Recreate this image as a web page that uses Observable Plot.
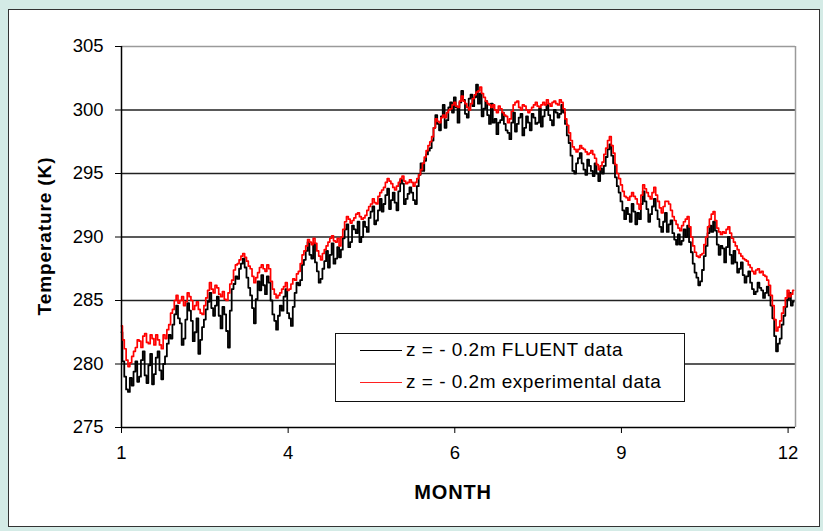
<!DOCTYPE html>
<html><head><meta charset="utf-8">
<script src="https://cdn.jsdelivr.net/npm/d3@7"></script>
<script src="https://cdn.jsdelivr.net/npm/@observablehq/plot@0.6"></script>
<style>
html,body{margin:0;padding:0;}
body{width:823px;height:531px;overflow:hidden;background:#d4ebe6;font-family:"Liberation Sans",Arial,sans-serif;}
#wrap{position:relative;width:823px;height:531px;}
#panel{position:absolute;left:8px;top:9px;width:810px;height:516px;background:#fff;border:1.5px solid #333;}
#chart{position:absolute;left:0;top:0;}
#chart svg{background:transparent;overflow:visible;}
#xlab{position:absolute;left:353px;width:200px;top:481px;text-align:center;font-weight:bold;font-size:20px;letter-spacing:0.8px;color:#000;}
#ylab{position:absolute;left:45px;top:236px;transform:translate(-50%,-50%) rotate(-90deg);white-space:nowrap;font-weight:bold;font-size:19px;letter-spacing:0.9px;color:#000;}
#legend{position:absolute;left:335px;top:333px;width:350px;height:69px;border:1.3px solid #111;background:#fff;box-sizing:border-box;font-size:19px;}
.li{position:absolute;left:24px;display:flex;align-items:center;white-space:nowrap;letter-spacing:0.5px;}
.sw{display:inline-block;width:42px;height:0;border-top:1.5px solid #000;margin-right:4px;}
</style></head>
<body><div id="wrap"><div id="panel"></div><div id="chart"></div>
<div id="xlab">MONTH</div><div id="ylab">Temperature (K)</div>
<div id="legend"><div class="li" style="top:5px"><span class="sw"></span><span id="l1"></span></div>
<div class="li" style="top:37px"><span class="sw" style="border-top-color:#ff2020"></span><span id="l2"></span></div></div>
</div>
<script>
const seriesNames = ["z = - 0.2m FLUENT data", "z = - 0.2m experimental data"];
const xTicks = [0, 90, 180, 270, 360];
const xTickLabels = ["1", "4", "6", "9", "12"];
const yTicks = [275, 280, 285, 290, 295, 300, 305];
const yGrid = [280, 285, 290, 295, 300];
// daily readings: even days (0,2,...,362) and odd days (1,3,...,363)
const fluentEven = [
282.5,279.0,277.8,278.3,280.2,279.0,281.0,278.5,280.8,279.2,
281.0,278.8,280.6,282.3,283.1,284.6,283.2,282.0,284.8,283.4,
282.5,280.8,282.9,284.3,285.6,283.8,285.3,282.8,283.9,281.3,
285.9,286.9,287.5,288.3,286.8,285.4,283.2,286.5,287.0,285.5,
286.4,283.9,282.7,284.6,285.3,284.0,283.0,285.6,286.2,287.8,
288.9,288.6,289.5,287.3,286.7,288.1,287.6,289.5,288.3,288.4,
289.9,291.0,289.6,290.6,291.2,290.0,290.8,291.5,292.4,291.3,
293.0,292.6,293.8,292.9,292.7,293.6,294.2,293.0,293.9,292.9,
294.0,295.8,296.0,296.8,297.6,299.6,298.4,300.4,299.2,300.6,
301.0,299.0,301.5,299.7,300.9,300.3,302.0,301.3,300.1,299.6,
300.5,299.3,299.0,299.8,298.4,297.7,299.8,298.9,299.7,298.6,
299.0,299.7,298.9,300.1,299.5,300.4,299.2,300.0,299.4,300.4,
298.9,297.4,295.2,295.8,296.6,295.3,296.1,295.2,295.8,294.4,
295.0,296.3,297.3,295.8,294.0,292.8,291.4,291.8,292.6,291.0,
291.4,293.6,292.2,291.8,293.0,291.4,290.4,291.9,291.0,290.3,
289.4,289.4,290.6,290.9,288.8,287.2,286.2,287.4,289.3,290.9,
291.2,289.4,289.3,288.0,290.0,287.9,288.0,287.5,287.0,286.9,
286.4,285.5,286.4,285.8,285.6,285.4,283.6,281.0,282.0,283.8,
285.1,284.6];
const fluentOdd = [
280.2,278.0,278.9,279.4,278.6,280.3,279.1,279.9,278.4,280.5,
279.5,280.0,281.6,282.0,283.9,283.6,281.5,283.5,284.2,281.8,
283.6,281.9,283.5,284.9,284.4,284.6,283.8,284.5,282.6,284.2,
286.3,286.7,287.9,287.6,286.0,284.4,285.1,285.8,286.2,286.9,
285.0,283.4,283.8,284.2,285.9,283.6,284.5,286.4,286.6,288.2,
289.6,288.3,288.0,286.4,287.5,288.9,288.6,287.9,289.2,289.0,
290.6,289.2,290.9,290.3,289.6,291.2,290.4,292.0,291.0,292.1,
292.0,293.3,292.2,293.5,292.1,294.5,292.6,293.4,293.5,292.6,
294.9,295.2,296.5,297.0,298.6,298.9,299.5,298.6,300.2,299.8,
300.2,300.6,300.8,299.4,301.2,301.0,300.5,299.5,300.7,298.9,
299.0,298.1,299.2,298.9,298.2,299.0,298.3,299.4,298.0,299.5,
298.4,299.4,299.0,298.7,300.0,299.6,298.8,299.8,299.7,299.8,
298.0,296.4,295.0,296.2,295.8,294.9,295.6,294.8,295.0,295.4,
295.6,296.9,296.4,294.7,293.5,292.1,292.3,291.2,292.0,291.9,
292.6,292.8,291.2,292.4,292.1,290.8,291.2,290.4,291.3,289.8,
290.2,289.7,290.0,289.6,287.9,286.8,286.5,288.5,290.3,290.4,
290.5,288.6,289.1,289.2,288.6,288.9,287.2,288.0,286.4,287.3,
285.9,285.7,286.0,285.2,286.1,284.6,282.2,281.6,283.1,284.5,
285.6,284.9];
const experimentalEven = [
283.0,281.2,279.8,280.6,281.3,281.8,282.2,281.7,282.3,281.5,
281.9,281.2,282.0,283.1,284.3,285.4,285.0,284.6,285.6,285.0,
284.6,284.3,283.9,285.2,286.4,285.6,286.0,285.3,285.1,285.6,
286.6,287.8,288.2,288.7,288.1,287.5,286.4,287.2,287.8,287.3,
287.5,285.9,285.2,285.6,286.1,285.8,286.3,286.6,287.3,288.6,
289.3,289.6,289.9,288.9,288.2,289.0,289.6,290.1,289.6,289.3,
290.6,291.6,291.1,291.5,291.9,291.4,291.7,292.4,293.0,292.6,
293.5,293.9,294.6,294.2,293.7,294.3,294.8,294.2,294.5,294.0,
294.6,295.3,296.3,297.2,297.9,299.3,299.0,299.6,299.8,300.1,
300.6,300.2,301.1,300.5,300.0,300.9,301.4,301.8,301.0,300.5,
300.2,300.0,300.3,299.8,299.5,299.3,300.4,300.7,300.0,300.3,
299.8,300.2,300.6,300.2,300.6,300.8,300.3,300.7,300.4,300.6,
299.3,298.2,297.1,296.7,297.2,296.9,296.5,296.8,296.2,295.3,
295.9,297.0,297.9,296.6,295.0,294.1,293.2,292.9,293.5,293.0,
292.2,294.1,293.5,293.0,293.9,292.8,291.9,292.8,292.6,291.6,
291.0,290.5,291.2,291.6,290.0,288.8,288.4,288.7,290.0,291.4,
292.0,290.7,290.2,290.3,290.8,289.9,289.3,288.7,288.3,288.1,
287.6,287.1,287.5,287.3,286.9,286.2,284.6,282.6,283.4,284.5,
285.8,285.5];
const experimentalOdd = [
281.9,280.3,280.1,281.0,281.9,281.3,282.4,281.6,282.0,282.3,
281.5,282.3,282.7,284.0,285.0,284.8,285.3,284.9,285.3,284.3,
284.9,284.0,284.6,285.8,285.9,286.2,285.5,285.7,285.0,286.3,
287.4,287.9,288.5,288.4,287.7,286.9,286.8,287.6,287.5,287.8,
286.5,285.5,285.4,285.9,286.4,285.9,286.7,287.1,287.9,288.9,
289.8,289.4,289.5,288.5,288.7,289.3,289.9,289.7,289.9,290.0,
291.2,291.4,291.3,291.8,291.6,291.5,292.1,292.6,292.7,293.2,
293.7,294.3,294.4,293.9,294.0,294.6,294.4,294.3,294.3,294.3,
294.9,295.8,296.8,297.5,298.6,299.1,299.4,299.4,300.0,300.4,
300.3,300.7,300.7,300.2,300.5,301.2,301.5,301.3,300.7,300.4,
300.4,299.8,300.1,299.6,299.0,299.9,300.6,300.2,300.4,300.0,
300.0,300.4,300.3,300.4,300.4,300.5,300.6,300.5,300.8,300.1,
298.8,297.6,296.9,296.9,297.0,296.7,296.6,296.5,295.7,295.6,
296.5,297.6,297.2,295.7,294.6,293.6,293.1,293.2,293.2,292.6,
293.3,293.8,293.2,293.5,293.3,292.3,292.4,292.8,292.1,291.3,
290.7,290.9,291.4,290.8,289.3,288.5,288.6,289.4,290.8,291.8,
291.3,290.4,290.4,290.6,290.3,289.6,289.0,288.5,288.2,287.8,
287.3,287.4,287.2,287.0,286.6,285.4,283.5,282.9,284.0,285.2,
285.3,285.8];

document.getElementById("l1").textContent = seriesNames[0];
document.getElementById("l2").textContent = seriesNames[1];

function daily(even, odd) {
  const out = [];
  for (let i = 0; i < even.length; i++) {
    out.push({day: 2 * i, T: even[i]});
    if (i < odd.length) out.push({day: 2 * i + 1, T: odd[i]});
  }
  return out;
}
const fl = daily(fluentEven, fluentOdd);
const ex = daily(experimentalEven, experimentalOdd);

const chart = Plot.plot({
  width: 823, height: 531,
  marginLeft: 121, marginRight: 28, marginTop: 46, marginBottom: 104,
  style: {background: "transparent", fontFamily: "'Liberation Sans', Arial, sans-serif", fontSize: "18.5px", color: "#000"},
  x: {domain: [0, 364]},
  y: {domain: [275, 305]},
  marks: [
    Plot.ruleY(yGrid, {stroke: "#222", strokeWidth: 1.4}),
    Plot.ruleY([305], {stroke: "#9a9a9a", strokeWidth: 1.5}),
    Plot.ruleX([364], {stroke: "#9a9a9a", strokeWidth: 1.5}),
    Plot.line(fl, {x: "day", y: "T", stroke: "#000", strokeWidth: 1.8, curve: "step"}),
    Plot.line(ex, {x: "day", y: "T", stroke: "#ff0000", strokeWidth: 1.7, curve: "step"}),
    Plot.ruleX([0], {stroke: "#000", strokeWidth: 1.5}),
    Plot.ruleY([275], {stroke: "#000", strokeWidth: 1.5}),
    Plot.axisY({ticks: yTicks, tickSize: 6, tickPadding: 12, label: null, stroke: "#000", strokeOpacity: 1}),
    Plot.axisX({ticks: xTicks, tickSize: 6, tickPadding: 12, label: null, stroke: "#000", strokeOpacity: 1,
      tickFormat: d => xTickLabels[xTicks.indexOf(d)]})
  ]
});
document.getElementById("chart").appendChild(chart);
</script>
</body></html>
